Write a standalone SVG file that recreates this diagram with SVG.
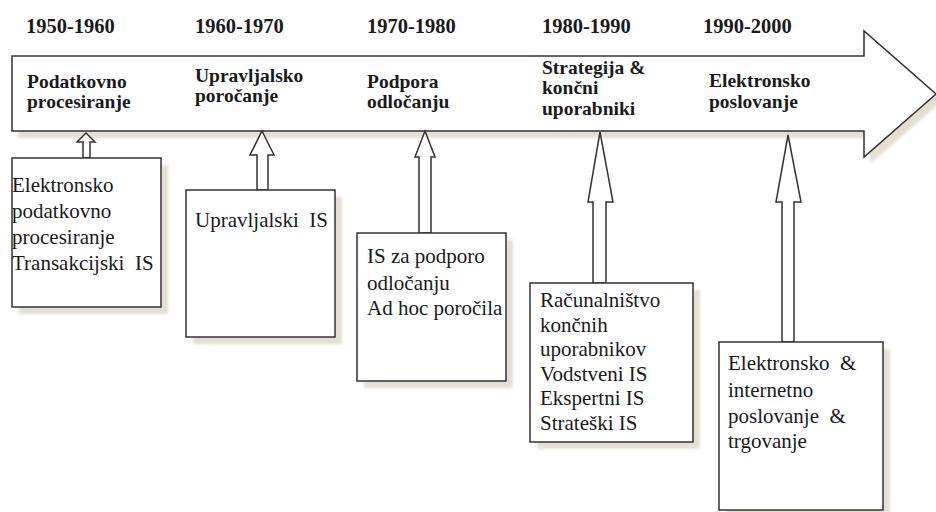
<svg xmlns="http://www.w3.org/2000/svg" width="936" height="512" viewBox="0 0 936 512">
  <defs>
    <filter id="soft" x="-5%" y="-5%" width="110%" height="110%">
      <feGaussianBlur stdDeviation="1.5"/>
    </filter>
  </defs>
  <style>
    .shape { fill: #ffffff; stroke: #333333; stroke-width: 1.5; stroke-linejoin: miter; }
    .drop { fill: #e2dfd4; stroke: none; }
    .year { font-family: "Liberation Serif", Tinos, "DejaVu Serif", serif; font-weight: bold; font-size: 20.5px; fill: #1a1a1a; }
    .phase { font-family: "Liberation Serif", Tinos, "DejaVu Serif", serif; font-weight: bold; font-size: 19.5px; fill: #1a1a1a; }
    .item { font-family: "Liberation Serif", Tinos, "DejaVu Serif", serif; font-size: 21px; fill: #1a1a1a; }
  </style>
  <rect width="936" height="512" fill="#ffffff"/>

  <!-- timeline arrow -->
  <g id="timeline">
    <polygon class="drop" filter="url(#soft)" points="18,63 870,63 870,38 942,101 870,164 870,138 18,138"/>
    <polygon class="shape" points="12,56 864,56 864,31 936,94 864,157 864,131 12,131"/>
    <text class="year" x="26" y="33">1950-1960</text>
    <text class="year" x="195" y="33">1960-1970</text>
    <text class="year" x="367" y="33">1970-1980</text>
    <text class="year" x="542" y="33">1980-1990</text>
    <text class="year" x="703" y="33">1990-2000</text>
    <text class="phase" x="27" y="88">Podatkovno</text>
    <text class="phase" x="27" y="108">procesiranje</text>
    <text class="phase" x="195" y="82">Upravljalsko</text>
    <text class="phase" x="195" y="102">poročanje</text>
    <text class="phase" x="367" y="88">Podpora</text>
    <text class="phase" x="367" y="108">odločanju</text>
    <text class="phase" x="542" y="74">Strategija &amp;</text>
    <text class="phase" x="542" y="94">končni</text>
    <text class="phase" x="542" y="115">uporabniki</text>
    <text class="phase" x="709" y="87">Elektronsko</text>
    <text class="phase" x="709" y="108">poslovanje</text>
  </g>

  <!-- block arrows pointing up to the timeline -->
  <g id="connectors">
    <polygon class="shape" points="86,133 95,142 90,142 90,158 83,158 83,142 77,142"/>
    <polygon class="shape" points="262,131 274,155 268,155 268,190 257,190 257,155 250,155"/>
    <polygon class="shape" points="425,131 435,157 431,157 431,233 419,233 419,157 415,157"/>
    <polygon class="shape" points="600,132 613,202 606,202 606,283 593,283 593,202 588,202"/>
    <polygon class="shape" points="788,135 801,202 794,202 794,342 782,342 782,202 776,202"/>
  </g>

  <g id="box-1950">
    <rect class="drop" filter="url(#soft)" x="19" y="165" width="149" height="149"/>
    <rect class="shape" x="12" y="158" width="149" height="149"/>
    <text class="item" x="12" y="192">Elektronsko</text>
    <text class="item" x="12" y="218">podatkovno</text>
    <text class="item" x="12" y="244">procesiranje</text>
    <text class="item" x="12" y="270" xml:space="preserve">Transakcijski  IS</text>
  </g>

  <g id="box-1960">
    <rect class="drop" filter="url(#soft)" x="193" y="197" width="149" height="147"/>
    <rect class="shape" x="186" y="190" width="149" height="147"/>
    <text class="item" x="195" y="227" xml:space="preserve">Upravljalski  IS</text>
  </g>

  <g id="box-1970">
    <rect class="drop" filter="url(#soft)" x="364" y="240" width="149" height="148"/>
    <rect class="shape" x="357" y="233" width="149" height="148"/>
    <text class="item" x="367" y="263">IS za podporo</text>
    <text class="item" x="367" y="290">odločanju</text>
    <text class="item" x="367" y="315">Ad hoc poročila</text>
  </g>

  <g id="box-1980">
    <rect class="drop" filter="url(#soft)" x="537" y="290" width="163" height="159"/>
    <rect class="shape" x="530" y="283" width="163" height="159"/>
    <text class="item" x="540" y="307">Računalništvo</text>
    <text class="item" x="540" y="332">končnih</text>
    <text class="item" x="540" y="356">uporabnikov</text>
    <text class="item" x="540" y="381">Vodstveni IS</text>
    <text class="item" x="540" y="405">Ekspertni IS</text>
    <text class="item" x="540" y="430">Strateški IS</text>
  </g>

  <g id="box-1990">
    <rect class="drop" filter="url(#soft)" x="726" y="349" width="164" height="168"/>
    <rect class="shape" x="719" y="342" width="164" height="168"/>
    <text class="item" x="728" y="370" xml:space="preserve">Elektronsko  &amp;</text>
    <text class="item" x="728" y="397">internetno</text>
    <text class="item" x="728" y="423" xml:space="preserve">poslovanje  &amp;</text>
    <text class="item" x="728" y="448">trgovanje</text>
  </g>
</svg>
